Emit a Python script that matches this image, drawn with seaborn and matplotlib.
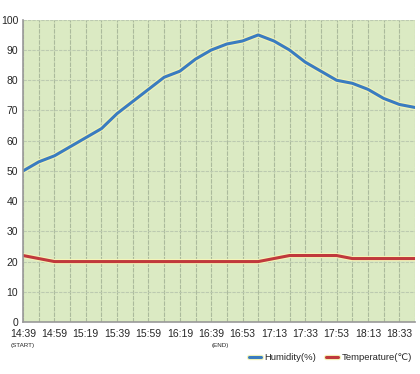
import numpy as np
import pandas as pd
import seaborn as sns
import matplotlib.pyplot as plt
import matplotlib.patheffects as pe

# readings (one every grid step, time labels on every second step)
humidity = [50, 53, 55, 58, 61, 64, 69, 73, 77, 81, 83, 87, 90, 92, 93,
            95, 93, 90, 86, 83, 80, 79, 77, 74, 72, 71]
temperature = [22, 21, 20, 20, 20, 20, 20, 20, 20, 20, 20, 20, 20, 20, 20,
               20, 21, 22, 22, 22, 22, 21, 21, 21, 21, 21]
time_labels = ['14:39', '14:59', '15:19', '15:39', '15:59', '16:19', '16:39',
               '16:53', '17:13', '17:33', '17:53', '18:13', '18:33']
y_ticks = list(range(0, 101, 10))

steps = np.arange(len(humidity))
df = pd.concat([
    pd.DataFrame({'step': steps, 'value': humidity, 'series': 'Humidity(%)'}),
    pd.DataFrame({'step': steps, 'value': temperature, 'series': 'Temperature(\u2103)'}),
])

sns.set_theme(style='white')
plt.rcParams['font.family'] = ['Liberation Sans', 'DejaVu Sans']

fig = plt.figure(figsize=(4.2, 3.74), dpi=100)
ax = fig.add_axes([0.055, 0.139, 0.933, 0.808])
ax.set_facecolor('#dbeac3')

sns.lineplot(data=df, x='step', y='value', hue='series',
             palette=['#3a7cc0', '#c0393c'], linewidth=2.2, ax=ax)
for line in ax.lines:
    line.set_path_effects([pe.Stroke(linewidth=3.8, foreground='#f3f4b8'), pe.Normal()])

ax.set_xlim(0, len(humidity) - 1)
ax.set_ylim(0, 100)
ax.set_yticks(y_ticks)
ax.set_yticklabels([str(t) for t in y_ticks], fontsize=7.5)
ax.set_xticks(steps[::2])
ax.set_xticklabels(time_labels, fontsize=7.5)
ax.set_xticks(steps[1::2], minor=True)
ax.tick_params(axis='both', which='both', length=2, width=0.8, color='#888888', pad=1.5)
ax.tick_params(axis='x', which='major', pad=3)

ax.grid(True, which='both', axis='x', color='#abba9c', linestyle=(0, (4, 1)), linewidth=0.8)
ax.grid(True, which='major', axis='y', color='#bccab0', linestyle=(0, (3, 1)), linewidth=0.8)
ax.set_axisbelow(True)

for side in ['top', 'right']:
    ax.spines[side].set_visible(False)
for side in ['left', 'bottom']:
    ax.spines[side].set_color('#999999')
    ax.spines[side].set_linewidth(1.2)
ax.set_xlabel('')
ax.set_ylabel('')

# small notes under start / end labels
trans = ax.get_xaxis_transform()
ax.text(0, -0.068, '(START)', transform=trans, ha='center', va='top', fontsize=4.5)
ax.text(12.6, -0.068, '(END)', transform=trans, ha='center', va='top', fontsize=4.5)

ax.legend(loc='upper right', bbox_to_anchor=(1.015, -0.075), ncol=2, frameon=False,
          fontsize=6.8, handlelength=1.3, handletextpad=0.4, columnspacing=1.0)

fig.savefig('out.png', dpi=100)
